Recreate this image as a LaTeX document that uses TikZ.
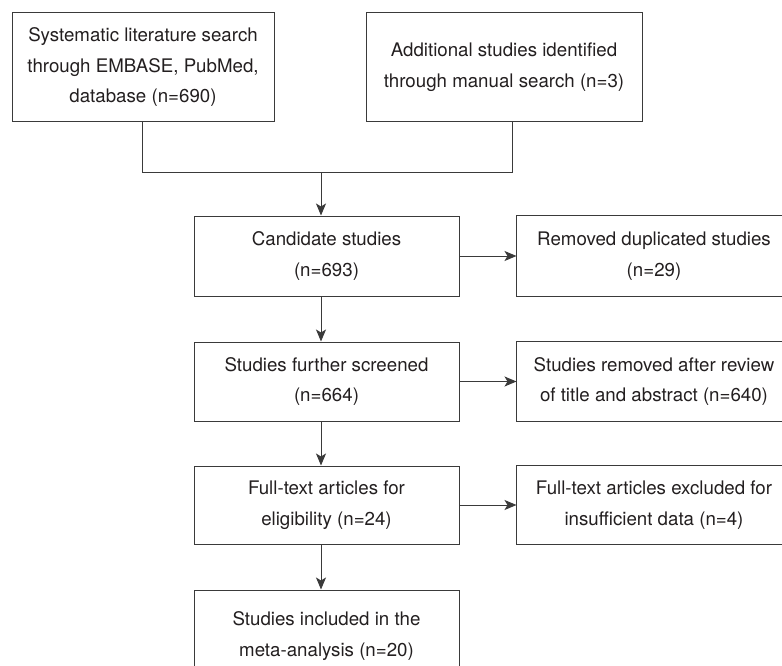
\documentclass[tikz,border=0pt]{standalone}
\usepackage{fontspec}
\setmainfont{TeX Gyre Heros}
\usetikzlibrary{arrows.meta}
\definecolor{linec}{HTML}{3A3A3A}
\definecolor{textc}{HTML}{231F20}
\tikzset{
  box/.style={draw=linec, line width=1pt, rectangle, inner sep=0pt, align=center,
    text=textc, font=\fontsize{18.7}{30.5}\selectfont},
  openbox/.style={box, draw=none},
  conn/.style={draw=linec, line width=1pt},
  arr/.style={conn, -{Stealth[length=12pt,width=10pt,inset=3pt]}}
}
\begin{document}
\begin{tikzpicture}[x=1pt,y=-1pt]
\useasboundingbox (0,0) rectangle (782,666);
\clip (0,0) rectangle (782,666);
\node[box, minimum width=262pt, minimum height=109pt] (tl) at (143,67)
  {Systematic literature search\\through EMBASE, PubMed,\\database (n=690)};
\node[box, minimum width=276pt, minimum height=109pt] (tr) at (504,67)
  {Additional studies identified\\through manual search (n=3)};
\node[box, minimum width=265pt, minimum height=80pt] (cand) at (326.5,256)
  {Candidate studies\\(n=693)};
\node[openbox, minimum width=274pt, minimum height=80pt] (dup) at (654,256)
  {Removed duplicated studies\\(n=29)};
\node[box, minimum width=265pt, minimum height=79pt] (scr) at (326.5,381.5)
  {Studies further screened\\(n=664)};
\node[openbox, minimum width=274pt, minimum height=79pt] (rem) at (654,381.5)
  {Studies removed after review\\of title and abstract (n=640)};
\node[box, minimum width=265pt, minimum height=78pt] (full) at (326.5,505)
  {Full-text articles for\\eligibility (n=24)};
\node[openbox, minimum width=274pt, minimum height=78pt] (exc) at (654,505)
  {Full-text articles excluded for\\insufficient data (n=4)};
\node[box, minimum width=265pt, minimum height=92pt] (inc) at (326.5,636)
  {Studies included in the\\meta-analysis (n=20)};
\foreach \b in {dup,rem,exc}{
  \draw[conn] ([xshift=80pt]\b.north east) -- (\b.north west) -- (\b.south west) -- ([xshift=80pt]\b.south east);
}
\coordinate (jl) at (142,173);
\coordinate (jr) at (512,173);
\coordinate (j) at (321,173);
\draw[conn] (tl.south -| jl) -- (jl) -- (jr) -- (tr.south -| jr);
\draw[arr] (j) -- (cand.north -| j);
\draw[arr] (cand.south -| j) -- (scr.north -| j);
\draw[arr] (scr.south -| j) -- (full.north -| j);
\draw[arr] (full.south -| j) -- (inc.north -| j);
\draw[arr] (cand.east) -- (dup.west);
\draw[arr] (scr.east) -- (rem.west);
\draw[arr] (full.east) -- (exc.west);
\end{tikzpicture}
\end{document}
